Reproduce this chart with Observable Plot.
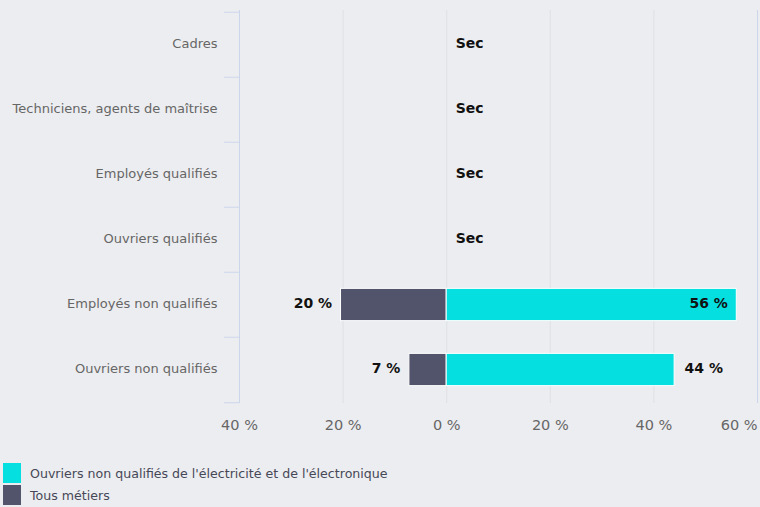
<!DOCTYPE html>
<html><head><meta charset="utf-8">
<script src="https://cdn.jsdelivr.net/npm/d3@7"></script>
<script src="https://cdn.jsdelivr.net/npm/@observablehq/plot@0.6"></script>
<style>
body{margin:0;background:#ecedf0;font-family:"DejaVu Sans",sans-serif;}
#legend{margin-top:22px;padding-left:3px;font-size:12.6px;color:#464857;}
.item{display:flex;align-items:center;height:22px;}
.sw{width:18px;height:20px;margin-right:9px;}
</style></head>
<body><div id="chart"></div><div id="legend"></div>
<script>
const categories = ["Cadres","Techniciens, agents de maîtrise","Employés qualifiés","Ouvriers qualifiés","Employés non qualifiés","Ouvriers non qualifiés"];
const ouvriersElec = [null,null,null,null,56,44];
const tousMetiers = [null,null,null,null,20.4,7.2];
const seriesNames = ["Ouvriers non qualifiés de l'électricité et de l'électronique","Tous métiers"];
const seriesColors = ["#05dfe0","#51546b"];
const xTicks = [-40,-20,0,20,40,60];

const rows = categories.map((c,i)=>({cat:c, elec:ouvriersElec[i], tous:tousMetiers[i]}));
const full = rows.filter(d=>d.elec!=null);
const sec = rows.filter(d=>d.elec==null);
const inside = full.filter(d=>d.elec>50);
const outside = full.filter(d=>d.elec<=50);
const fmt = v => `${Math.round(Math.abs(v))} %`;
const step = (403-10)/categories.length;
const inset = step/4;
const lbl = {fontWeight:"bold", fontSize:14, fill:"#111", dy:-1.5};

const chart = Plot.plot({
  width:760, height:440,
  marginLeft:239, marginRight:3, marginTop:10, marginBottom:37,
  style:{background:"#ecedf0", fontFamily:"DejaVu Sans, sans-serif"},
  x:{domain:[-40,60], ticks:xTicks, label:null},
  y:{domain:categories, padding:0, label:null},
  marks:[
    Plot.ruleX(xTicks.filter(t=>t>-40 && t<60), {stroke:"#dfe0e4", strokeWidth:1}),
    Plot.ruleX([60], {stroke:"#ccd6eb"}),
    Plot.ruleX([-40], {stroke:"#ccd6eb"}),
    Plot.barX(full, {y:"cat", x1:0, x2:d=>-d.tous, fill:seriesColors[1], stroke:"white", strokeWidth:1, insetTop:inset, insetBottom:inset}),
    Plot.barX(full, {y:"cat", x1:0, x2:"elec", fill:seriesColors[0], stroke:"white", strokeWidth:1, insetTop:inset, insetBottom:inset}),
    Plot.ruleX(sec, {x:0, y:"cat", stroke:"white", strokeWidth:2, insetTop:inset, insetBottom:inset}),
    Plot.text(sec, {x:0, y:"cat", text:()=>"Sec", textAnchor:"start", dx:9, ...lbl}),
    Plot.text(full, {x:d=>-d.tous, y:"cat", text:d=>fmt(d.tous), textAnchor:"end", dx:-9, ...lbl}),
    Plot.text(inside, {x:"elec", y:"cat", text:d=>fmt(d.elec), textAnchor:"end", dx:-9, ...lbl}),
    Plot.text(outside, {x:"elec", y:"cat", text:d=>fmt(d.elec), textAnchor:"start", dx:10, ...lbl}),
    Plot.axisY({tickSize:0, tickPadding:22, fontSize:13, color:"#666", dy:-1.5}),
    Plot.axisY({ticks:categories, tickSize:15, tickFormat:()=>"", dy:-step/2, stroke:"#ccd6eb"}),
    Plot.axisY({ticks:[categories[categories.length-1]], tickSize:15, tickFormat:()=>"", dy:step/2, stroke:"#ccd6eb"}),
    Plot.axisX({ticks:xTicks.slice(0,-1), tickSize:0, tickPadding:16, tickFormat:fmt, fontSize:14.5, color:"#666"}),
    Plot.axisX({ticks:xTicks.slice(-1), tickSize:0, tickPadding:16, tickFormat:fmt, fontSize:14.5, color:"#666", textAnchor:"end", dx:0})
  ]
});
document.getElementById("chart").append(chart);
const lg = d3.select("#legend");
seriesNames.forEach((n,i)=>{
  const it = lg.append("div").attr("class","item");
  it.append("div").attr("class","sw").style("background",seriesColors[i]);
  it.append("span").text(n);
});
</script></body></html>
